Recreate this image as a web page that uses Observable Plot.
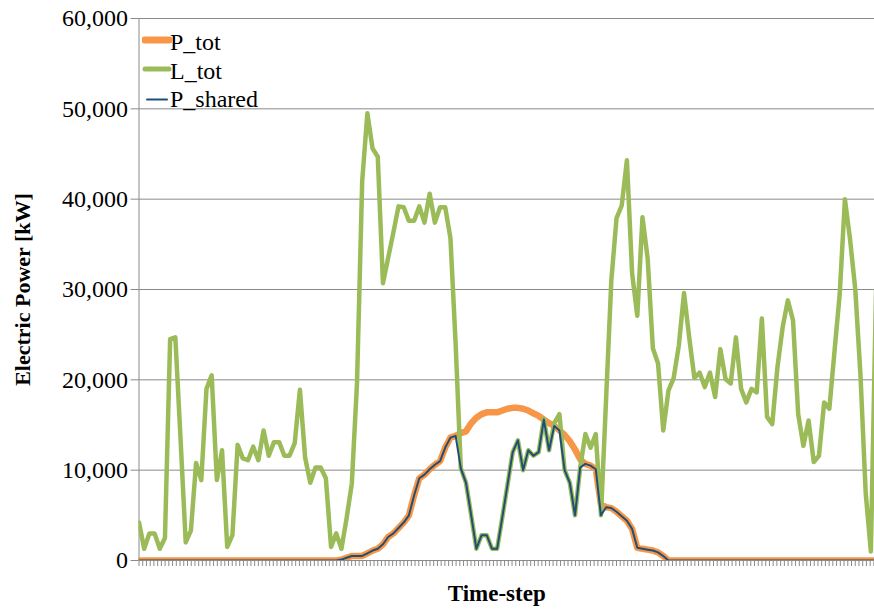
<!DOCTYPE html>
<html>
<head>
<meta charset="utf-8">
<script src="https://cdn.jsdelivr.net/npm/d3@7"></script>
<script src="https://cdn.jsdelivr.net/npm/@observablehq/plot@0.6"></script>
<style>
  body { margin: 0; background: #fff; }
  #wrap { position: relative; width: 874px; height: 613px; overflow: hidden; }
  #legend { position: absolute; left: 142px; top: 28px; font-family: "Liberation Serif", "Times New Roman", serif; font-size: 24px; color: #000; }
  .row { position: absolute; left: 0; height: 28px; white-space: nowrap; }
  .row svg { position: absolute; left: 0; top: 0; }
  .row span { position: absolute; left: 28px; top: 0; line-height: 28px; }
</style>
</head>
<body>
<div id="wrap"><div id="legend"></div></div>
<script>
// Time-step index (0-based) for each value; one value per time-step.
const L_tot = [
  4200, 1300, 3000, 3000, 1300, 2500, 24500, 24700, 13500, 2000,
  3300, 10800, 8900, 19000, 20500, 8900, 12200, 1500, 2800, 12800,
  11300, 11100, 12600, 11100, 14400, 11600, 13100, 13100, 11600, 11600,
  13000, 18900, 11400, 8600, 10300, 10300, 9100, 1500, 3000, 1300,
  4700, 8500, 19600, 42000, 49500, 45600, 44700, 30700, 33500, 36300,
  39200, 39100, 37600, 37600, 39200, 37400, 40600, 37400, 39100, 39100,
  35700, 24000, 10200, 8600, 5000, 1300, 2800, 2800, 1300, 1300,
  4800, 8400, 12000, 13300, 10000, 12200, 11600, 12000, 15700, 12200,
  15200, 16200, 10000, 8600, 5000, 10300, 14000, 12500, 14000, 5000,
  18000, 31000, 37900, 39300, 44300, 31800, 27100, 38000, 33400, 23500,
  21800, 14400, 18800, 20200, 23800, 29600, 24700, 20200, 20800, 19200,
  20800, 18100, 23400, 20100, 19600, 24700, 19000, 17500, 19000, 18600,
  26800, 15900, 15100, 21400, 25800, 28800, 26600, 16200, 12700, 15500,
  10900, 11600, 17500, 16800, 23200, 29500, 40000, 35500, 30000, 20500,
  7500, 1000, 30000
];
const P_tot = [
  0, 0, 0, 0, 0, 0, 0, 0, 0, 0,
  0, 0, 0, 0, 0, 0, 0, 0, 0, 0,
  0, 0, 0, 0, 0, 0, 0, 0, 0, 0,
  0, 0, 0, 0, 0, 0, 0, 0, 0, 100,
  300, 500, 500, 500, 800, 1100, 1300, 1800, 2600, 3000,
  3600, 4200, 5000, 7200, 9100, 9500, 10100, 10600, 11000, 12500,
  13600, 13800, 14100, 14300, 15200, 15800, 16200, 16400, 16400, 16400,
  16600, 16800, 16900, 16900, 16800, 16600, 16300, 16000, 15600, 15200,
  14900, 14400, 13900, 13200, 12300, 11200, 10700, 10500, 10100, 6200,
  5900, 5800, 5400, 4900, 4400, 3500, 1400, 1300, 1200, 1100,
  900, 500, 0, 0, 0, 0, 0, 0, 0, 0,
  0, 0, 0, 0, 0, 0, 0, 0, 0, 0,
  0, 0, 0, 0, 0, 0, 0, 0, 0, 0,
  0, 0, 0, 0, 0, 0, 0, 0, 0, 0,
  0, 0, 0
];
const P_shared = [
  0, 0, 0, 0, 0, 0, 0, 0, 0, 0,
  0, 0, 0, 0, 0, 0, 0, 0, 0, 0,
  0, 0, 0, 0, 0, 0, 0, 0, 0, 0,
  0, 0, 0, 0, 0, 0, 0, 0, 0, 100,
  300, 500, 500, 500, 800, 1100, 1300, 1800, 2600, 3000,
  3600, 4200, 5000, 7200, 9100, 9500, 10100, 10600, 11000, 12500,
  13600, 13800, 10200, 8600, 5000, 1300, 2800, 2800, 1300, 1300,
  4800, 8400, 12000, 13300, 10000, 12200, 11600, 12000, 15600, 12200,
  14900, 14400, 10000, 8600, 5000, 10300, 10700, 10500, 10100, 5000,
  5900, 5800, 5400, 4900, 4400, 3500, 1400, 1300, 1200, 1100,
  900, 500, 0, 0, 0, 0, 0, 0, 0, 0,
  0, 0, 0, 0, 0, 0, 0, 0, 0, 0,
  0, 0, 0, 0, 0, 0, 0, 0, 0, 0,
  0, 0, 0, 0, 0, 0, 0, 0, 0, 0,
  0, 0, 0
];
const yTicks = [0, 10000, 20000, 30000, 40000, 50000, 60000];
const seriesNames = ["P_tot", "L_tot", "P_shared"];
const colors = { P_tot: "#F79646", L_tot: "#9BBB59", P_shared: "#1F4E79" };
const widths = { P_tot: 6.5, L_tot: 4.5, P_shared: 2 };
const xLabel = "Time-step";
const yLabel = "Electric Power [kW]";

const lastVisibleStep = 141.7;          // the view ends at the right image edge
const nXTicks = 198;                     // category tick marks along the axis
const xTicks = d3.range(nXTicks).map(k => k * 0.7187);

const rows = [];
const add = (name, arr) => arr.forEach((v, i) => rows.push({ series: name, step: i, value: v }));
add("P_tot", P_tot);
add("L_tot", L_tot);
add("P_shared", P_shared);

const serif = "'Liberation Serif', 'Times New Roman', serif";
const gray = "#8a8a8a";

const chart = Plot.plot({
  width: 874,
  height: 613,
  marginLeft: 138.5,
  marginRight: 0,
  marginTop: 18,
  marginBottom: 53,
  style: { fontFamily: serif, fontSize: "24px", background: "#fff", color: "#000" },
  x: { domain: [0, lastVisibleStep], axis: null },
  y: { domain: [0, 60000], axis: null },
  marks: [
    Plot.gridY(yTicks, { stroke: gray, strokeOpacity: 1, strokeWidth: 1 }),
    Plot.axisY(yTicks, { tickSize: 8, tickPadding: 3, stroke: gray, tickFormat: d3.format(","), fontSize: 24, fontFamily: serif, fill: "#000", label: null }),
    Plot.ruleX([0], { stroke: gray, strokeWidth: 1 }),
    Plot.axisX(xTicks, { tickSize: 6, stroke: gray, tickFormat: () => "", label: null }),
    ...seriesNames.map(name =>
      Plot.line(rows.filter(d => d.series === name), {
        x: "step", y: "value", stroke: colors[name], strokeWidth: widths[name],
        strokeLinejoin: "round", strokeLinecap: "round", clip: true
      })
    ),
    Plot.text([yLabel], { frameAnchor: "left", textAnchor: "middle", dx: -116, rotate: -90, fontWeight: "bold", fontSize: 22, fontFamily: serif, fill: "#000" }),
    Plot.text([xLabel], { frameAnchor: "bottom", textAnchor: "middle", dx: -10, dy: 40, fontWeight: "bold", fontSize: 23, fontFamily: serif, fill: "#000" })
  ]
});
document.getElementById("wrap").prepend(chart);

// legend
const legend = document.getElementById("legend");
seriesNames.forEach((name, i) => {
  const row = document.createElement("div");
  row.className = "row";
  row.style.top = (i * 28.5) + "px";
  const len = name === "P_shared" ? 20 : 24;
  const x0 = name === "P_shared" ? 5 : 3;
  row.innerHTML = `<svg width="30" height="28"><line x1="${x0}" x2="${x0 + len}" y1="${i === 2 ? 14.5 : 12}" y2="${i === 2 ? 14.5 : 12}" stroke="${colors[name]}" stroke-width="${name === "P_shared" ? 2 : (name === "P_tot" ? 7 : 5)}" stroke-linecap="round"/></svg><span>${name}</span>`;
  legend.appendChild(row);
});
</script>
</body>
</html>
